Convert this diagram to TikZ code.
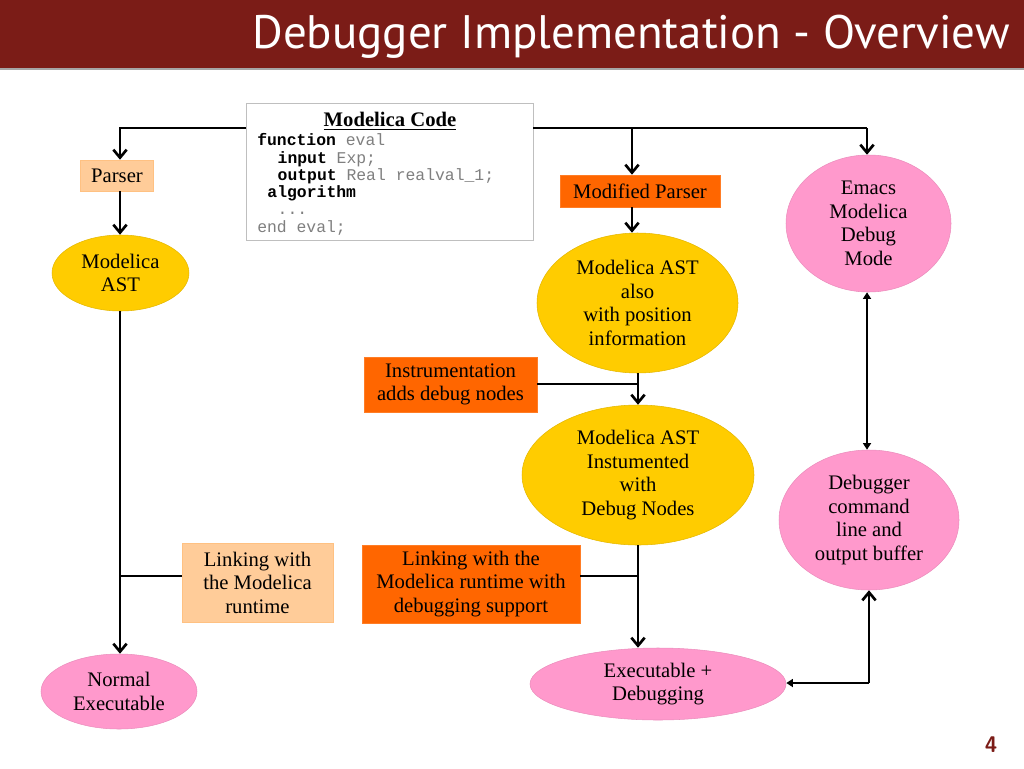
\documentclass[tikz,border=0pt]{standalone}
\usepackage{fontspec}
\setmainfont{Liberation Serif}
\newfontfamily\codefont{Liberation Mono}
\newfontfamily\titlefont{PT Sans}
\usetikzlibrary{arrows.meta,shapes.geometric}
\definecolor{hdr}{HTML}{7B1C17}
\definecolor{ayellow}{HTML}{FFCC00}
\definecolor{apink}{HTML}{FF99CC}
\definecolor{aorange}{HTML}{FF6600}
\definecolor{apeach}{HTML}{FFCC99}
\definecolor{codegray}{HTML}{7F7F7F}
\tikzset{
  txt/.style={font=\fontsize{15.5}{17.6}\selectfont, align=center, text=black},
  ell/.style={ellipse, txt, inner sep=0pt},
  yell/.style={ell, fill=ayellow, draw=ayellow!90!black, line width=0.4pt},
  pell/.style={ell, fill=apink, draw=apink!92!black, line width=0.4pt},
  obox/.style={rectangle, txt, inner sep=0pt, fill=aorange, draw=aorange!85!white, line width=0.4pt},
  pbox/.style={rectangle, txt, inner sep=0pt, fill=apeach, draw=apeach!85!orange, line width=0.4pt},
  conn/.style={line width=2.2pt, line join=miter},
  arr/.style={conn, -{Straight Barb[length=6pt,width=10pt,line width=2pt]}},
  tarr/.style={conn, -{Triangle[length=5pt,width=6pt]}},
  darr/.style={conn, {Triangle[length=5pt,width=6pt]}-{Triangle[length=5pt,width=6pt]}},
  code/.style={anchor=west, inner sep=0pt, text height=7pt, text depth=1.5pt, font=\codefont\fontsize{12.3}{13}\selectfont, text=codegray},
}
\begin{document}
\begin{tikzpicture}[x=0.75pt,y=-0.75pt]
\useasboundingbox (0,0) rectangle (1024,768);
% header
\fill[hdr] (0,0) rectangle (1024,68);
\fill[black!35] (0,68) rectangle (1024,70);
\node[anchor=east, inner sep=0pt, text=white] (title) at (1010,37)
  {\resizebox{568pt}{!}{\titlefont\fontsize{40}{44}\selectfont Debugger Implementation - Overview}};
\node[inner sep=0pt, text=hdr, font=\sffamily\bfseries\fontsize{17}{19}\selectfont] (pg) at (991,745) {4};

% code box
\node[draw=black!25, line width=0.6pt, fill=white, minimum width=215.25pt, minimum height=102.75pt, inner sep=0pt] (codebox) at (389.5,171.5) {};
\node[inner sep=0pt, font=\bfseries\fontsize{15.5}{17.6}\selectfont] (ctitle) at (390,121) {\underline{Modelica Code}};
\node[code] (c1) at (257,142) {\textcolor{black}{\textbf{function}} eval};
\node[code] (c2) at (277.4,160) {\textcolor{black}{\textbf{input}} Exp;};
\node[code] (c3) at (277.4,177) {\textcolor{black}{\textbf{output}} Real realval\_1;};
\node[code] (c4) at (267.2,194) {\textcolor{black}{\textbf{algorithm}}};
\node[code] (c5) at (277.4,211) {...};
\node[code] (c6) at (257,229) {end eval;};

% left column
\node[pbox, minimum width=54.75pt, minimum height=23.25pt] (parser) at (117,175.5) {Parser};
\node[yell, minimum width=102.75pt, minimum height=57pt] (ast1) at (120.5,273) {Modelica\\AST};
\node[pell, minimum width=117pt, minimum height=56.25pt] (normal) at (119,691.5) {Normal\\Executable};
\node[pbox, minimum width=113.25pt, minimum height=59.25pt] (link1) at (257.5,582.5) {Linking with\\the Modelica\\runtime};

% middle column
\node[obox, minimum width=120pt, minimum height=24pt] (mparser) at (640,191) {Modified Parser};
\node[yell, minimum width=150.75pt, minimum height=105pt] (ast2) at (637.5,303) {Modelica AST\\also\\with position\\information};
\node[obox, minimum width=129.75pt, minimum height=41.25pt] (instr) at (450.5,384.5) {Instrumentation\\adds debug nodes};
\node[yell, minimum width=174pt, minimum height=105pt] (ast3) at (638,475) {Modelica AST\\Instumented\\with\\Debug Nodes};
\node[obox, minimum width=163.5pt, minimum height=58.5pt] (link2) at (471,584) {Linking with the\\Modelica runtime with\\debugging support};
\node[pell, minimum width=192pt, minimum height=54pt] (exe) at (658,684) {Executable +\\Debugging};

% right column
\node[pell, minimum width=123.75pt, minimum height=102.75pt] (emacs) at (868.5,223.5) {Emacs\\Modelica\\Debug\\Mode};
\node[pell, minimum width=135pt, minimum height=105pt] (dbg) at (869,520) {Debugger\\command\\line and\\output buffer};

% connectors
\coordinate (jl) at (120,128);
\coordinate (jr) at (867,128);
\draw[arr] (codebox.west |- jl) -| (parser.north -| jl);
\draw[conn] (codebox.east |- jr) -- (jr);
\draw[arr] (jr) -- (emacs.north -| jr);
\coordinate (jm) at (632,128);
\draw[arr] (jm) -- (mparser.north -| jm);
\draw[arr] (mparser.south -| jm) -- (ast2.north -| jm);
\draw[arr] (parser.south -| jl) -- (ast1.north -| jl);
\draw[arr] (ast1.south -| jl) -- (normal.north -| jl);
\coordinate (jl2) at (120,576);
\draw[conn] (link1.west |- jl2) -- (jl2);

\coordinate (jm2) at (638,384);
\draw[arr] (ast2.south -| jm2) -- (ast3.north -| jm2);
\draw[conn] (instr.east |- jm2) -- (jm2);
\coordinate (jm3) at (638,576);
\draw[arr] (ast3.south -| jm3) -- (exe.north -| jm3);
\draw[conn] (link2.east |- jm3) -- (jm3);

\draw[darr] (emacs.south -| jr) -- (dbg.north -| jr);
\coordinate (jb) at (869,683);
\draw[arr] (jb) -- (dbg.south -| jb);
\draw[tarr] (jb) -- (exe.east |- jb);
\end{tikzpicture}
\end{document}
